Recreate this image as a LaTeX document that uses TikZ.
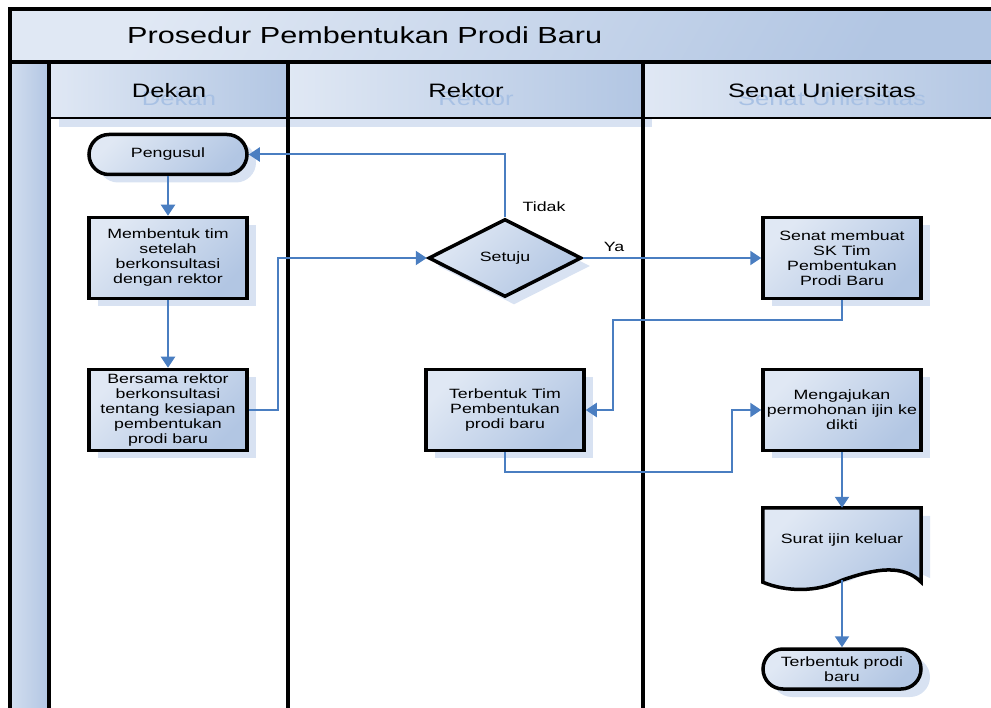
\documentclass[tikz,border=0pt]{standalone}
\usepackage{fontspec}
\setmainfont[FakeStretch=1.32]{Liberation Sans}
\usetikzlibrary{arrows.meta,shapes.geometric,shapes.misc,shadows}
\definecolor{lnk}{RGB}{74,126,193}
\definecolor{fillA}{RGB}{224,232,244}
\definecolor{fillB}{RGB}{178,198,227}
\definecolor{shad}{RGB}{216,226,242}
\definecolor{ghost}{RGB}{168,193,228}
\tikzset{
  bodyfont/.style={font=\fontsize{13.45}{15}\selectfont},
  grad/.style={top color=fillA, bottom color=fillB, shading angle=45},
  shd/.style={drop shadow={shadow xshift=9pt, shadow yshift=-8pt, fill=shad, opacity=1}},
  procbox/.style={draw=black, line width=3.5pt, minimum width=158pt, minimum height=81pt,
    inner sep=0pt, align=center, bodyfont, grad, shd},
  termbox/.style={rounded rectangle, draw=black, line width=3.5pt, minimum width=158pt,
    minimum height=40pt, inner sep=0pt, align=center, bodyfont, grad, shd},
  decbox/.style={diamond, draw=black, line width=3.5pt, minimum width=153pt,
    minimum height=78pt, inner sep=0pt, align=center, bodyfont, grad, shd},
  conn/.style={draw=lnk, line width=2pt, -{Triangle[length=11pt,width=14pt]}},
  frame/.style={draw=black, line width=3.5pt},
  hdr/.style={font=\fontsize{19.4}{23}\selectfont},
  lbl/.style={bodyfont, inner sep=0pt},
}
\begin{document}
\begin{tikzpicture}[x=1pt,y=-1pt]
\useasboundingbox (0,0) rectangle (991,708);
\clip (0,0) rectangle (991,708);
% pool background
\fill[top color=fillA, bottom color=fillB, shading angle=60] (10,9) rectangle (1005,62);
\fill[left color=fillA!70!fillB, right color=fillB] (10,62) rectangle (49,708);
\fill[left color=fillA, right color=fillB] (49,62) rectangle (288,118);
\fill[left color=fillA, right color=fillB] (288,62) rectangle (643,118);
\fill[left color=fillA, right color=fillB] (643,62) rectangle (1005,118);
\fill[shad] (59,118) rectangle (652,127);
% titles
\node[anchor=west, font=\fontsize{23.2}{28}\selectfont, inner sep=0pt] (title) at (127,35) {Prosedur Pembentukan Prodi Baru};
\node[hdr, text=ghost] (gdekan) at (179,99) {Dekan};
\node[hdr, text=ghost] (grektor) at (476,99) {Rektor};
\node[hdr, text=ghost] (gsenat) at (832,99) {Senat Uniersitas};
\node[hdr] (hdekan) at (169,91) {Dekan};
\node[hdr] (hrektor) at (466,91) {Rektor};
\node[hdr] (hsenat) at (822,91) {Senat Uniersitas};
% frame lines
\draw[frame] (10,708) -- (10,9) -- (1005,9);
\draw[frame] (10,62) -- (1005,62);
\draw[frame] (49,62) -- (49,708);
\draw[frame] (288,62) -- (288,708);
\draw[frame] (643,62) -- (643,708);
\draw[draw=black, line width=2.5pt] (49,118) -- (1005,118);
% nodes
\node[termbox] (peng) at (168,154.5) {Pengusul};
\node[procbox] (mem) at (168,258) {Membentuk tim\\setelah\\berkonsultasi\\dengan rektor};
\node[procbox] (ber) at (168,410) {Bersama rektor\\berkonsultasi\\tentang kesiapan\\pembentukan\\prodi baru};
\node[decbox] (setuju) at (505,258) {Setuju};
\node[procbox] (tt) at (505,410) {Terbentuk Tim\\Pembentukan\\prodi baru};
\node[procbox] (senat) at (842,258) {Senat membuat\\SK Tim\\Pembentukan\\Prodi Baru};
\node[procbox] (meng) at (842,410) {Mengajukan\\permohonan ijin ke\\dikti};
% document shape
\node[minimum width=158pt, minimum height=72pt, inner sep=0pt, bodyfont] (surat) at (842,544) {};
\fill[shad] ([shift={(9,8)}]surat.north west) -- ([shift={(9,8)}]surat.north east) -- ([shift={(9,-2)}]surat.south east)
  .. controls ([shift={(-18,-16)}]surat.south east) and ([shift={(-45,-12)}]surat.south east) .. ([shift={(9,0)}]surat.south)
  .. controls ([shift={(-25,12)}]surat.south) and ([shift={(-55,12)}]surat.south) .. ([shift={(9,-2)}]surat.south west) -- cycle;
\draw[line width=3.5pt, grad, line join=miter] (surat.north west) -- (surat.north east) -- ([yshift=-2pt]surat.south east)
  .. controls ([shift={(-18,-16)}]surat.south east) and ([shift={(-45,-12)}]surat.south east) .. (surat.south)
  .. controls ([shift={(-25,12)}]surat.south) and ([shift={(-55,12)}]surat.south) .. ([yshift=-2pt]surat.south west) -- cycle;
\node[bodyfont] (surattext) at (842,540) {Surat ijin keluar};
\node[termbox] (tpb) at (842,669) {Terbentuk prodi\\baru};
% connectors
\draw[conn] (peng.south) -- (mem.north);
\draw[conn] (mem.south) -- (ber.north);
\draw[conn] (ber.east) -- ++(29,0) |- (setuju.west);
\draw[conn] (setuju.north) |- (peng.east);
\draw[conn] (setuju.east) -- (senat.west);
\draw[conn] (senat.south) |- (613,320) |- (tt.east);
\draw[conn] (tt.south) |- (732,472) |- (meng.west);
\draw[conn] (meng.south) -- (surat.north);
\draw[conn] (surat.south) -- (tpb.north);
% labels
\node[lbl] (ltidak) at (544,207) {Tidak};
\node[lbl] (lya) at (614,247) {Ya};
\end{tikzpicture}
\end{document}
